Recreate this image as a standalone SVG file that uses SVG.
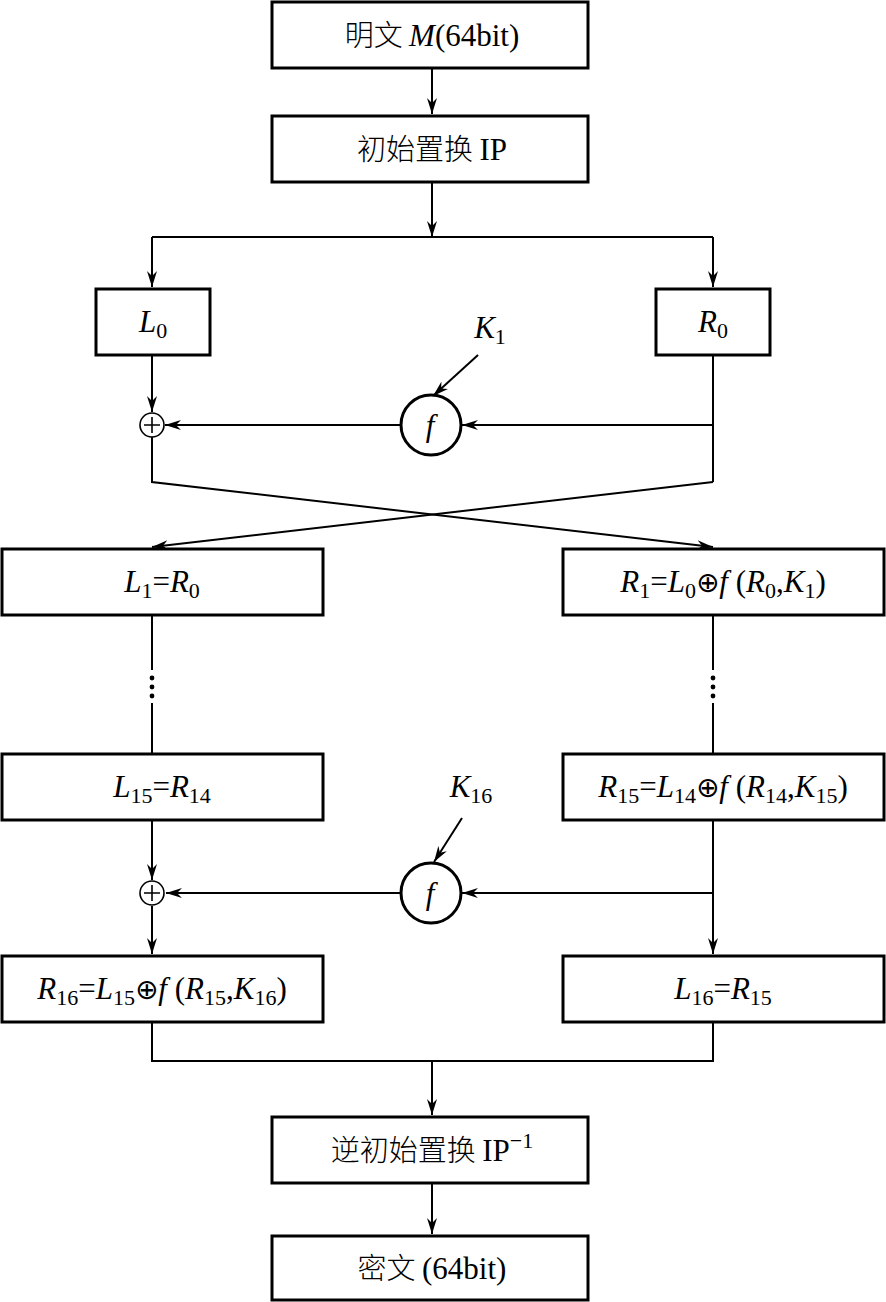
<svg xmlns="http://www.w3.org/2000/svg" width="886" height="1302" viewBox="0 0 886 1302">
<style>
.box{fill:#fff;stroke:#000;stroke-width:3}
.ln{fill:none;stroke:#000;stroke-width:2}
.fc{fill:#fff;stroke:#000;stroke-width:3}
.xc{fill:#fff;stroke:#000;stroke-width:1.6}
text{font-family:"Liberation Serif","Times New Roman","DejaVu Serif","Noto Sans CJK SC",serif;font-size:31px;fill:#000;text-anchor:middle}
.i{font-style:italic}
.s{font-size:22px;font-style:normal}
.cjk{font-family:"Noto Sans CJK SC","Noto Sans CJK JP",sans-serif;font-size:29px;font-weight:300}
.op{font-family:"DejaVu Sans",sans-serif;font-size:28px;font-style:normal}
</style>
<defs>
<marker id="ah" viewBox="0 0 16 10" refX="16" refY="5" markerWidth="16" markerHeight="10" markerUnits="userSpaceOnUse" orient="auto">
<path d="M0,0 L16,5 L0,10 L5,5 Z" fill="#000"/>
</marker>
</defs>
<g id="connectors">
<line class="ln" x1="432" y1="68" x2="432" y2="114" marker-end="url(#ah)"/>
<line class="ln" x1="432" y1="182" x2="432" y2="237" marker-end="url(#ah)"/>
<polyline class="ln" points="152,237 713,237"/>
<line class="ln" x1="152" y1="237" x2="152" y2="287" marker-end="url(#ah)"/>
<line class="ln" x1="713" y1="237" x2="713" y2="287" marker-end="url(#ah)"/>
<line class="ln" x1="152" y1="355" x2="152" y2="412" marker-end="url(#ah)"/>
<polyline class="ln" points="713,355 713,482"/>
<line class="ln" x1="713" y1="425" x2="462" y2="425" marker-end="url(#ah)"/>
<line class="ln" x1="400" y1="425" x2="165" y2="425" marker-end="url(#ah)"/>
<line class="ln" x1="478" y1="355" x2="433" y2="396" marker-end="url(#ah)"/>
<polyline class="ln" points="152,437 152,482 713,547" marker-end="url(#ah)"/>
<polyline class="ln" points="713,482 152,547" marker-end="url(#ah)"/>
<line class="ln" x1="152" y1="615" x2="152" y2="670"/>
<line class="ln" x1="152" y1="703" x2="152" y2="753"/>
<line class="ln" x1="713" y1="615" x2="713" y2="670"/>
<line class="ln" x1="713" y1="703" x2="713" y2="753"/>
<g fill="#000">
<circle cx="152" cy="678" r="2.4"/><circle cx="152" cy="687" r="2.4"/><circle cx="152" cy="696" r="2.4"/>
<circle cx="713" cy="678" r="2.4"/><circle cx="713" cy="687" r="2.4"/><circle cx="713" cy="696" r="2.4"/>
</g>
<line class="ln" x1="152" y1="820" x2="152" y2="880" marker-end="url(#ah)"/>
<line class="ln" x1="152" y1="906" x2="152" y2="954" marker-end="url(#ah)"/>
<line class="ln" x1="713" y1="820" x2="713" y2="954" marker-end="url(#ah)"/>
<line class="ln" x1="713" y1="893" x2="462" y2="893" marker-end="url(#ah)"/>
<line class="ln" x1="400" y1="893" x2="166" y2="893" marker-end="url(#ah)"/>
<line class="ln" x1="462" y1="818" x2="434" y2="862" marker-end="url(#ah)"/>
<polyline class="ln" points="152,1022 152,1061 713,1061 713,1022"/>
<line class="ln" x1="432" y1="1061" x2="432" y2="1115" marker-end="url(#ah)"/>
<line class="ln" x1="432" y1="1183" x2="432" y2="1234" marker-end="url(#ah)"/>
</g>
<g id="n_plain"><rect class="box" x="272" y="2" width="316" height="66"/><text x="432" y="46"><tspan class="cjk">明文 </tspan><tspan class="i">M</tspan>(64bit)</text></g>
<g id="n_ip"><rect class="box" x="272" y="116" width="316" height="66"/><text x="432" y="160"><tspan class="cjk">初始置换 </tspan>IP</text></g>
<g id="n_L0"><rect class="box" x="96" y="289" width="114" height="66"/><text x="153" y="332"><tspan class="i">L</tspan><tspan class="s" dy="6">0</tspan></text></g>
<g id="n_R0"><rect class="box" x="656" y="289" width="114" height="66"/><text x="713" y="332"><tspan class="i">R</tspan><tspan class="s" dy="6">0</tspan></text></g>
<g id="n_K1"><text x="490" y="338"><tspan class="i">K</tspan><tspan class="s" dy="6">1</tspan></text></g>
<g id="n_f1"><circle class="fc" cx="431" cy="425" r="30"/><text x="430" y="436" class="i">f</text></g>
<g id="n_x1"><circle class="xc" cx="152" cy="425" r="12"/><path class="ln" style="stroke-width:1.6" d="M144,425 H160 M152,417 V433"/></g>
<g id="n_L1"><rect class="box" x="2" y="549" width="321" height="66"/><text x="162" y="592"><tspan class="i">L</tspan><tspan class="s" dy="6">1</tspan><tspan dy="-6">=</tspan><tspan class="i">R</tspan><tspan class="s" dy="6">0</tspan></text></g>
<g id="n_R1"><rect class="box" x="563" y="549" width="321" height="66"/><text x="723" y="592"><tspan class="i">R</tspan><tspan class="s" dy="6">1</tspan><tspan dy="-6">=</tspan><tspan class="i">L</tspan><tspan class="s" dy="6">0</tspan><tspan class="op" dy="-6">⊕</tspan><tspan class="i">f</tspan> (<tspan class="i">R</tspan><tspan class="s" dy="6">0</tspan><tspan dy="-6">,</tspan><tspan class="i">K</tspan><tspan class="s" dy="6">1</tspan><tspan dy="-6">)</tspan></text></g>
<g id="n_L15"><rect class="box" x="2" y="754" width="321" height="66"/><text x="162" y="797"><tspan class="i">L</tspan><tspan class="s" dy="6">15</tspan><tspan dy="-6">=</tspan><tspan class="i">R</tspan><tspan class="s" dy="6">14</tspan></text></g>
<g id="n_R15"><rect class="box" x="563" y="754" width="321" height="66"/><text x="723" y="797"><tspan class="i">R</tspan><tspan class="s" dy="6">15</tspan><tspan dy="-6">=</tspan><tspan class="i">L</tspan><tspan class="s" dy="6">14</tspan><tspan class="op" dy="-6">⊕</tspan><tspan class="i">f</tspan> (<tspan class="i">R</tspan><tspan class="s" dy="6">14</tspan><tspan dy="-6">,</tspan><tspan class="i">K</tspan><tspan class="s" dy="6">15</tspan><tspan dy="-6">)</tspan></text></g>
<g id="n_K16"><text x="471" y="797"><tspan class="i">K</tspan><tspan class="s" dy="6">16</tspan></text></g>
<g id="n_f16"><circle class="fc" cx="431" cy="893" r="30"/><text x="430" y="904" class="i">f</text></g>
<g id="n_x16"><circle class="xc" cx="152" cy="893" r="12"/><path class="ln" style="stroke-width:1.6" d="M144,893 H160 M152,885 V901"/></g>
<g id="n_R16"><rect class="box" x="2" y="956" width="321" height="66"/><text x="162" y="999"><tspan class="i">R</tspan><tspan class="s" dy="6">16</tspan><tspan dy="-6">=</tspan><tspan class="i">L</tspan><tspan class="s" dy="6">15</tspan><tspan class="op" dy="-6">⊕</tspan><tspan class="i">f</tspan> (<tspan class="i">R</tspan><tspan class="s" dy="6">15</tspan><tspan dy="-6">,</tspan><tspan class="i">K</tspan><tspan class="s" dy="6">16</tspan><tspan dy="-6">)</tspan></text></g>
<g id="n_L16"><rect class="box" x="563" y="956" width="321" height="66"/><text x="723" y="999"><tspan class="i">L</tspan><tspan class="s" dy="6">16</tspan><tspan dy="-6">=</tspan><tspan class="i">R</tspan><tspan class="s" dy="6">15</tspan></text></g>
<g id="n_ipinv"><rect class="box" x="272" y="1117" width="316" height="66"/><text x="432" y="1161"><tspan class="cjk">逆初始置换 </tspan>IP<tspan class="s" dy="-13">−1</tspan></text></g>
<g id="n_cipher"><rect class="box" x="272" y="1236" width="316" height="64"/><text x="432" y="1279"><tspan class="cjk">密文 </tspan>(64bit)</text></g>
</svg>
